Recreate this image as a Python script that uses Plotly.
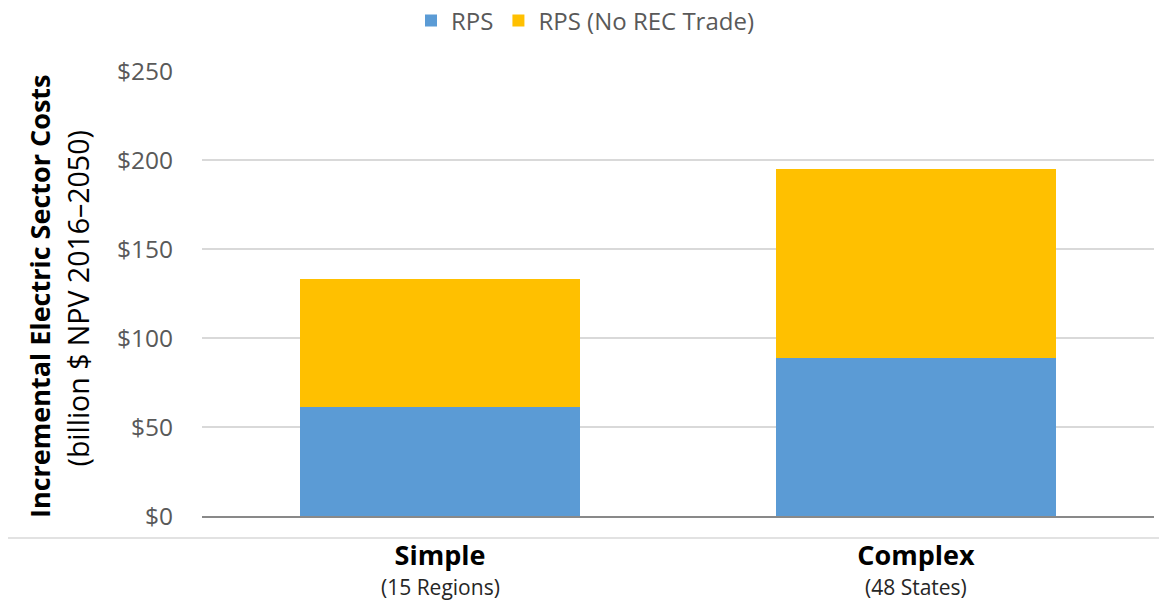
import plotly.graph_objects as go

categories = ["Simple", "Complex"]
subtitles = ["(15 Regions)", "(48 States)"]
rps = [61, 89]
rps_no_rec = [72, 106]
y_ticks = [0, 50, 100, 150, 200, 250]
y_tick_labels = ["$0", "$50", "$100", "$150", "$200", "$250"]

FONT = "Open Sans"
OFF = 8  # page body margin
W, H = 1167 - OFF, 605 - OFF
L, R, T, B = 202 - OFF, 13, 71 - OFF, 89
pw = W - L - R
ph = H - T - B


def px(x):
    return (x - 202) / pw


def py(y):
    return (516 - y) / ph


fig = go.Figure()
fig.add_trace(go.Bar(name="RPS", x=categories, y=rps, marker_color="#5B9BD5",
                     marker_line_width=0))
fig.add_trace(go.Bar(name="RPS (No REC Trade)", x=categories, y=rps_no_rec,
                     marker_color="#FFC000", marker_line_width=0))

ticktext = [f"<b>{c}</b>" for c in categories]

annotations = [
    dict(text="<b>Incremental Electric Sector Costs</b>", xref="paper", yref="paper",
         x=px(39), y=py(297), xanchor="center", yanchor="middle",
         textangle=-90, showarrow=False,
         font=dict(size=27, color="black", family=FONT)),
    dict(text="(billion $ NPV 2016–2050)", xref="paper", yref="paper",
         x=px(77), y=py(298.5), xanchor="center", yanchor="middle",
         textangle=-90, showarrow=False,
         font=dict(size=28.5, color="black", family=FONT)),
]
for c, s in zip(categories, subtitles):
    annotations.append(dict(text=s, xref="x", yref="paper", x=c, y=py(587),
                            xanchor="center", yanchor="middle", showarrow=False,
                            font=dict(size=21, color="#262626", family=FONT)))

fig.update_layout(
    barmode="stack",
    bargap=0.41,
    width=W, height=H,
    margin=dict(l=L, r=R, t=T, b=B, autoexpand=False),
    paper_bgcolor="white", plot_bgcolor="white",
    font=dict(family=FONT, color="#595959"),
    showlegend=True,
    legend=dict(orientation="h", xref="paper", yref="container",
                x=px(411), xanchor="left", y=1 - (21 - OFF) / H, yanchor="middle",
                font=dict(size=24, color="#595959", family=FONT),
                traceorder="normal", itemwidth=30, bgcolor="rgba(0,0,0,0)"),
    xaxis=dict(tickmode="array", tickvals=categories, ticktext=ticktext,
               tickfont=dict(size=27, color="black", family=FONT),
               showline=True, linecolor="#898989", linewidth=2,
               ticks="", showgrid=False, ticklabelstandoff=15),
    yaxis=dict(range=[0, 250], tickvals=y_ticks, ticktext=y_tick_labels,
               tickfont=dict(size=24.5, color="#595959", family=FONT),
               showgrid=True, gridcolor="#D9D9D9", gridwidth=1.5,
               zeroline=False, showline=False, ticks="", ticklabelstandoff=28),
    annotations=annotations,
    shapes=[dict(type="line", xref="paper", yref="paper", layer="below",
                 x0=px(5), x1=px(1167), y0=py(538), y1=py(538),
                 line=dict(color="#D9D9D9", width=1.5))],
)

fig.write_html("out.html")
